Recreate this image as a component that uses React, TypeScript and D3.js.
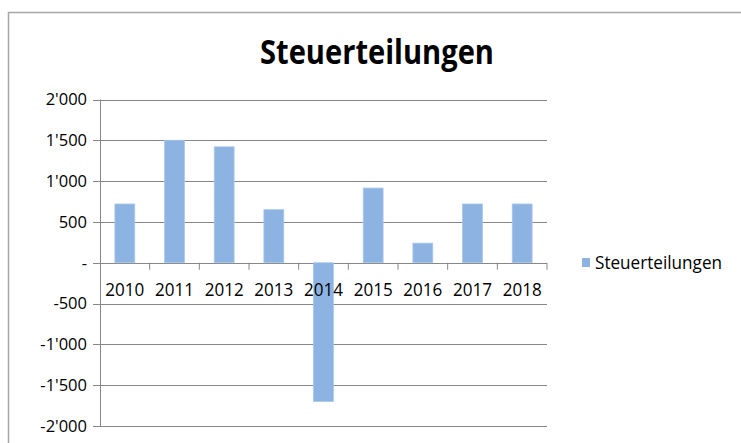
import React from "react";
import * as d3 from "d3";

const categories = ["2010", "2011", "2012", "2013", "2014", "2015", "2016", "2017", "2018"];
const values = [720, 1500, 1420, 650, -1700, 915, 240, 720, 720];
const yTicks = [-2000, -1500, -1000, -500, 0, 500, 1000, 1500, 2000];
const seriesName = "Steuerteilungen";
const title = "Steuerteilungen";

const fmt = (v: number) => {
  if (v === 0) return "-";
  const s = Math.abs(v).toString();
  const withSep = s.length > 3 ? s.slice(0, s.length - 3) + "'" + s.slice(-3) : s;
  return (v < 0 ? "-" : "") + withSep;
};

export default function App() {
  const W = 741, H = 443;
  const left = 100, right = 547, top = 99.5, bottom = 426;
  const x = d3.scaleBand<string>().domain(categories).range([left, right]).paddingInner(0.6).paddingOuter(0.3);
  const xb = d3.scaleBand<string>().domain(categories).range([left, right]);
  const y = d3.scaleLinear().domain([-2000, 2000]).range([bottom, top]);
  const font = "'Open Sans', 'Noto Sans', sans-serif";
  const grid = "#878787";
  return (
    <svg width={W} height={H} style={{ position: "absolute", left: 0, top: 0, background: "#fff" }}>
      <rect x={8.5} y={12.5} width={W} height={H} fill="#fff" stroke="#a6a6a6" strokeWidth={1.5} />
      <text x={377} y={64} textAnchor="middle" fontFamily={font} fontWeight="bold" fontSize={34} textLength={234} lengthAdjust="spacingAndGlyphs" fill="#000">{title}</text>
      {yTicks.map((t) => (
        <g key={t}>
          <line x1={left - 7} x2={right} y1={Math.round(y(t)) + 0.5} y2={Math.round(y(t)) + 0.5} stroke={grid} strokeWidth={1} />
          <text x={87} y={y(t)} dy="0.35em" textAnchor="end" fontFamily={font} fontSize={16.5} fill="#000">{fmt(t)}</text>
        </g>
      ))}
      <line x1={left + 0.5} x2={left + 0.5} y1={top} y2={bottom} stroke={grid} strokeWidth={1} />
      {categories.map((c) => (
        <line key={"tk" + c} x1={(xb(c) as number) + xb.bandwidth()} x2={(xb(c) as number) + xb.bandwidth()} y1={y(0)} y2={y(0) + 7} stroke={grid} strokeWidth={1} />
      ))}
      {categories.map((c, i) => (
        <rect key={c} x={x(c) as number} width={x.bandwidth()} y={y(Math.max(0, values[i]))} height={Math.abs(y(values[i]) - y(0))} fill="#8db3e2" stroke="#a9c6ec" strokeWidth={0.8} />
      ))}
      {categories.map((c) => (
        <text key={"l" + c} x={(xb(c) as number) + xb.bandwidth() / 2} y={290} dy="0.35em" textAnchor="middle" fontFamily={font} fontSize={18.5} textLength={39} lengthAdjust="spacingAndGlyphs" fill="#000">{c}</text>
      ))}
      <rect x={582} y={258} width={8} height={9} fill="#8db3e2" />
      <text x={595} y={263} dy="0.35em" fontFamily={font} fontSize={18} textLength={127} lengthAdjust="spacingAndGlyphs" fill="#000">{seriesName}</text>
    </svg>
  );
}
